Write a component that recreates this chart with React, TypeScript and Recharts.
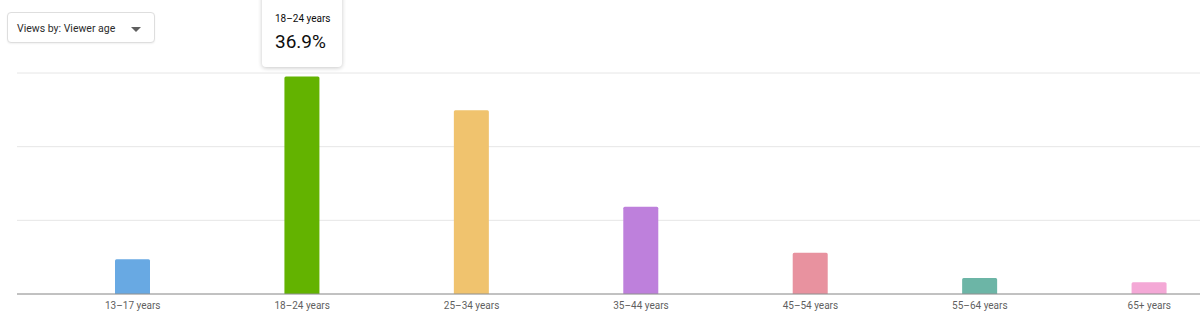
import React from 'react';
import { BarChart, Bar, XAxis, YAxis, CartesianGrid, Cell, Tooltip } from 'recharts';

const categories = ['13–17 years', '18–24 years', '25–34 years', '35–44 years', '45–54 years', '55–64 years', '65+ years'];
const viewShare = [5.9, 36.9, 31.2, 14.8, 7.0, 2.7, 2.0];
const yTicks = [0, 12.5, 25, 37.5];
const barColors = ['#68a9e3', '#63b300', '#f0c36e', '#be80dc', '#e8929f', '#6cb5a6', '#f4a8d6'];
const dropdownLabel = 'Views by: Viewer age';

const data = categories.map((c, i) => ({ age: c, share: viewShare[i] }));

const FONT = 'Roboto, "Noto Sans", Arial, sans-serif';

const TipContent = (props: any) => {
  const { active, payload } = props;
  if (!active || !payload || !payload.length) return null;
  const p = payload[0];
  return (
    <div
      style={{
        width: 80,
        height: 77,
        boxSizing: 'border-box',
        background: '#fff',
        borderRadius: 4,
        boxShadow: '0 1px 4px rgba(0,0,0,0.22)',
        paddingLeft: 13,
        paddingTop: 23,
        fontFamily: FONT,
        color: '#0d0d0d',
      }}
    >
      <div style={{ fontSize: 10, lineHeight: '12px' }}>{p.payload.age}</div>
      <div style={{ fontSize: 19, lineHeight: '22px', marginTop: 6 }}>{p.value.toFixed(1)}%</div>
    </div>
  );
};

export default function App() {
  return (
    <div
      style={{
        position: 'absolute',
        left: 0,
        top: 0,
        width: 1200,
        height: 320,
        overflow: 'hidden',
        background: '#fff',
        fontFamily: FONT,
      }}
    >
      <div style={{ position: 'absolute', left: 0, top: 0 }}>
        <BarChart
          width={1234}
          height={320}
          data={data}
          margin={{ top: 73, right: 0, bottom: 6, left: 17 }}
        >
          <CartesianGrid vertical={false} stroke="#e6e6e6" strokeWidth={1} />
          <YAxis hide domain={[0, 37.5]} ticks={yTicks} />
          <XAxis
            dataKey="age"
            height={20}
            padding={{ left: 31, right: 0 }}
            tickLine={false}
            axisLine={{ stroke: '#909090', strokeWidth: 1 }}
            tick={{ fontSize: 10, fill: '#5f5f5f', fontFamily: FONT }}
            tickMargin={2}
            interval={0}
          />
          <Tooltip
            active
            defaultIndex={1}
            cursor={false}
            position={{ x: 262, y: -10 }}
            allowEscapeViewBox={{ x: true, y: true }}
            isAnimationActive={false}
            content={<TipContent />}
            wrapperStyle={{ outline: 'none' }}
          />
          <Bar dataKey="share" barSize={35} radius={[1.5, 1.5, 0, 0]} isAnimationActive={false}>
            {data.map((d, i) => (
              <Cell key={d.age} fill={barColors[i]} />
            ))}
          </Bar>
        </BarChart>
      </div>
      <div
        style={{
          position: 'absolute',
          left: 7,
          top: 12,
          width: 148,
          height: 31,
          boxSizing: 'border-box',
          border: '1px solid #dedede',
          borderRadius: 4,
          boxShadow: '0 1px 2px rgba(0,0,0,0.06)',
          background: '#fff',
        }}
      >
        <span
          style={{
            position: 'absolute',
            left: 9,
            top: 9,
            fontSize: 10.5,
            lineHeight: '14px',
            color: '#2b2b2b',
            fontFamily: FONT,
            whiteSpace: 'nowrap',
          }}
        >
          {dropdownLabel}
        </span>
        <span
          style={{
            position: 'absolute',
            left: 123,
            top: 14,
            width: 0,
            height: 0,
            borderLeft: '5px solid transparent',
            borderRight: '5px solid transparent',
            borderTop: '5px solid #5f5f5f',
          }}
        />
      </div>
    </div>
  );
}
